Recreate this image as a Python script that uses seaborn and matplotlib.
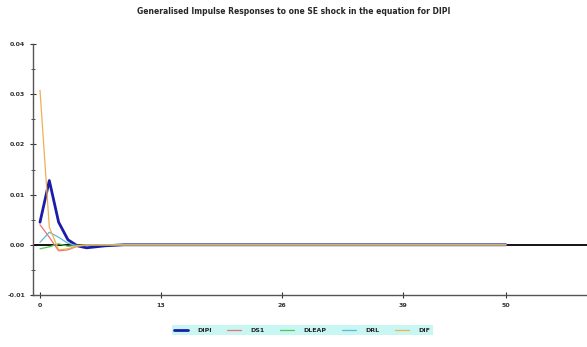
import matplotlib
matplotlib.use("Agg")
import matplotlib.pyplot as plt
import seaborn as sns
import pandas as pd

horizon = list(range(51))

dipi = [0.0045, 0.0128, 0.0045, 0.0010, -0.0002, -0.0006, -0.0004, -0.0002, -0.0001, 0.0,
        0.0, 0.0, 0.0, 0.0, 0.0, 0.0, 0.0, 0.0, 0.0, 0.0,
        0.0, 0.0, 0.0, 0.0, 0.0, 0.0, 0.0, 0.0, 0.0, 0.0,
        0.0, 0.0, 0.0, 0.0, 0.0, 0.0, 0.0, 0.0, 0.0, 0.0,
        0.0, 0.0, 0.0, 0.0, 0.0, 0.0, 0.0, 0.0, 0.0, 0.0, 0.0]
ds1 = [0.0040, 0.0015, -0.0012, -0.0010, -0.0003, -0.0001, 0.0, 0.0, 0.0, 0.0,
       0.0, 0.0, 0.0, 0.0, 0.0, 0.0, 0.0, 0.0, 0.0, 0.0,
       0.0, 0.0, 0.0, 0.0, 0.0, 0.0, 0.0, 0.0, 0.0, 0.0,
       0.0, 0.0, 0.0, 0.0, 0.0, 0.0, 0.0, 0.0, 0.0, 0.0,
       0.0, 0.0, 0.0, 0.0, 0.0, 0.0, 0.0, 0.0, 0.0, 0.0, 0.0]
dleap = [-0.0008, -0.0004, 0.0002, -0.0003, -0.0001, 0.0, 0.0, 0.0, 0.0, 0.0,
         0.0, 0.0, 0.0, 0.0, 0.0, 0.0, 0.0, 0.0, 0.0, 0.0,
         0.0, 0.0, 0.0, 0.0, 0.0, 0.0, 0.0, 0.0, 0.0, 0.0,
         0.0, 0.0, 0.0, 0.0, 0.0, 0.0, 0.0, 0.0, 0.0, 0.0,
         0.0, 0.0, 0.0, 0.0, 0.0, 0.0, 0.0, 0.0, 0.0, 0.0, 0.0]
drl = [0.0005, 0.0025, 0.0015, 0.0003, -0.0002, -0.0001, 0.0, 0.0, 0.0, 0.0,
       0.0, 0.0, 0.0, 0.0, 0.0, 0.0, 0.0, 0.0, 0.0, 0.0,
       0.0, 0.0, 0.0, 0.0, 0.0, 0.0, 0.0, 0.0, 0.0, 0.0,
       0.0, 0.0, 0.0, 0.0, 0.0, 0.0, 0.0, 0.0, 0.0, 0.0,
       0.0, 0.0, 0.0, 0.0, 0.0, 0.0, 0.0, 0.0, 0.0, 0.0, 0.0]
dif = [0.0308, 0.0035, -0.0010, -0.0008, -0.0002, 0.0, 0.0, 0.0, 0.0, 0.0,
       0.0, 0.0, 0.0, 0.0, 0.0, 0.0, 0.0, 0.0, 0.0, 0.0,
       0.0, 0.0, 0.0, 0.0, 0.0, 0.0, 0.0, 0.0, 0.0, 0.0,
       0.0, 0.0, 0.0, 0.0, 0.0, 0.0, 0.0, 0.0, 0.0, 0.0,
       0.0, 0.0, 0.0, 0.0, 0.0, 0.0, 0.0, 0.0, 0.0, 0.0, 0.0]

series_names = ["DIPI", "DS1", "DLEAP", "DRL", "DIF"]
series_values = [dipi, ds1, dleap, drl, dif]
colors = ["#1c1ca8", "#f07070", "#50c850", "#60b8d8", "#f0b050"]
widths = [2.0, 0.9, 0.9, 0.9, 0.9]

xticks = [0, 13, 26, 39, 50]
yticks = [-0.01, 0.0, 0.01, 0.02, 0.03, 0.04]
ytick_labels = ["-0.01", "0.00", "0.01", "0.02", "0.03", "0.04"]

sns.set_theme(style="white")
plt.rcParams["font.family"] = ["DejaVu Sans"]

fig = plt.figure(figsize=(5.87, 3.47), dpi=100)
ax = fig.add_axes([33 / 587, 1 - 295 / 347, 1 - 33 / 587, (295 - 44) / 347])

ax.axhline(0, color="black", lw=1.3, zorder=1)

for name, vals, c, w in zip(series_names, series_values, colors, widths):
    df = pd.DataFrame({"h": horizon, "v": vals})
    sns.lineplot(data=df, x="h", y="v", ax=ax, color=c, lw=w, label=name, zorder=3)

ax.set_xlim(-0.75, 58.7)
ax.set_ylim(-0.01, 0.04)
ax.set_xticks(xticks)
ax.set_xticklabels([str(t) for t in xticks])
ax.set_yticks(yticks)
ax.set_yticklabels(ytick_labels)
ax.set_yticks([-0.005, 0.005, 0.015, 0.025, 0.035], minor=True)
ax.tick_params(axis="both", which="major", direction="inout", length=4, width=0.8,
               labelsize=4.5, colors="#333333", left=True, bottom=True)
ax.tick_params(axis="y", which="minor", direction="inout", length=2.5, width=0.6,
               left=True, colors="#333333")
for lab in ax.get_xticklabels() + ax.get_yticklabels():
    lab.set_fontweight("bold")
ax.set_xlabel("")
ax.set_ylabel("")
for s in ["top", "right"]:
    ax.spines[s].set_visible(False)
for s in ["left", "bottom"]:
    ax.spines[s].set_color("#555555")
    ax.spines[s].set_linewidth(1.0)

ax.get_legend().remove()
handles, labels = ax.get_legend_handles_labels()
leg = fig.legend(handles, labels, loc="center", bbox_to_anchor=(302 / 587, 1 - 330 / 347),
                 ncol=5, fontsize=4.5, frameon=True, facecolor="#c8f6f2", edgecolor="none",
                 framealpha=1.0, handlelength=2.2, columnspacing=2.5, handletextpad=1.5,
                 borderpad=0.4, fancybox=False)
for t in leg.get_texts():
    t.set_fontweight("bold")

fig.text(294 / 587, 1 - 12 / 347,
         "Generalised Impulse Responses to one SE shock in the equation for DIPI",
         ha="center", va="center", fontsize=5.5, fontweight="bold")

fig.savefig("out.png", dpi=100)
